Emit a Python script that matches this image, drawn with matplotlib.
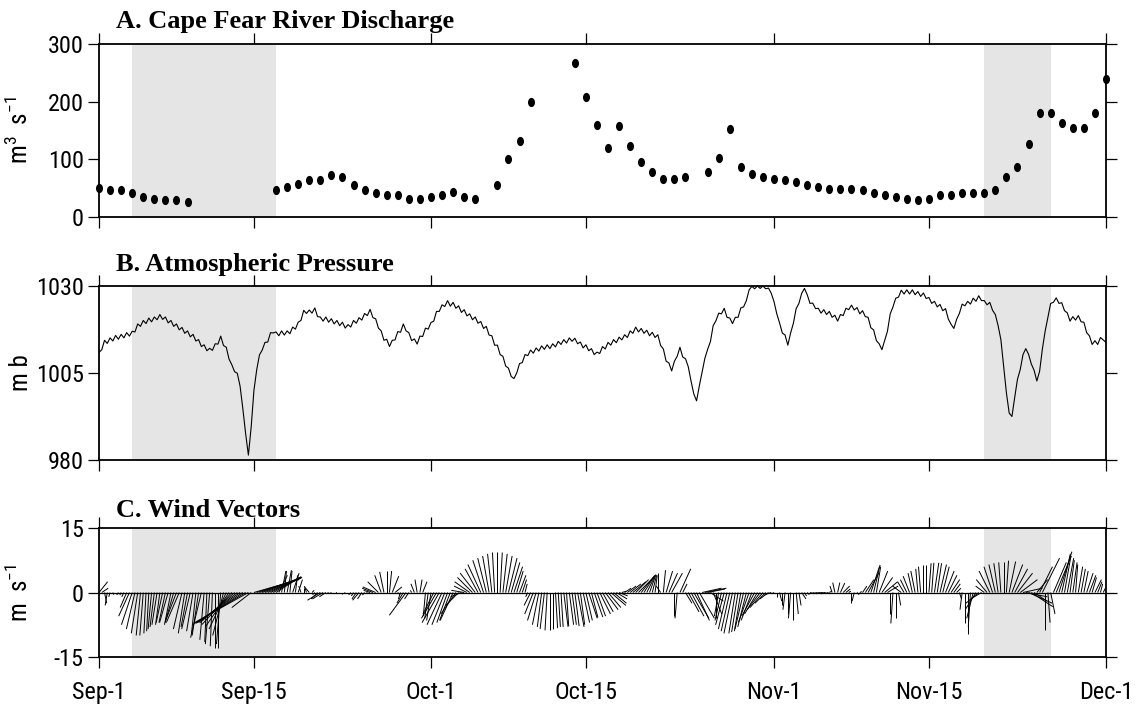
import numpy as np
import matplotlib
matplotlib.use("Agg")
import matplotlib.pyplot as plt
from matplotlib.collections import LineCollection
from matplotlib.path import Path
from matplotlib.transforms import Affine2D
from matplotlib import font_manager

# ---------------------------------------------------------------- data
# Day offsets are counted from Sep-1 (day 0) to Dec-1 (day 91).
tick_days = [0, 14, 30, 44, 61, 75, 91]
tick_labels = ["Sep-1", "Sep-15", "Oct-1", "Oct-15", "Nov-1", "Nov-15", "Dec-1"]
shade_spans = [(3, 16), (80, 86)]

# A. daily river discharge (m3/s); days without a value are left out
discharge_day = [0, 1, 2, 3, 4, 5, 6, 7, 8,
                 16, 17, 18, 19, 20, 21, 22, 23, 24, 25, 26, 27, 28, 29, 30,
                 31, 32, 33, 34,
                 36, 37, 38, 39,
                 43, 44, 45, 46, 47, 48, 49, 50, 51, 52, 53,
                 55, 56, 57, 58, 59, 60, 61, 62, 63, 64, 65, 66, 67, 68, 69,
                 70, 71, 72, 73, 74, 75, 76, 77, 78, 79, 80, 81, 82, 83, 84,
                 85, 86, 87, 88, 89, 90, 91]
discharge = [50, 47, 47, 41, 35, 32, 29, 29, 26,
             46, 52, 58, 64, 64, 72, 70, 55, 47, 41, 38, 38, 32, 32, 35,
             38, 44, 35, 32,
             55, 100, 132, 200,
             267, 208, 160, 120, 157, 123, 95, 78, 66, 66, 69,
             78, 103, 152, 86, 75, 69, 66, 64, 61, 55, 52, 49, 49, 49, 46,
             41, 38, 35, 32, 29, 32, 38, 38, 41, 41, 41, 46, 69, 86, 126,
             180, 180, 163, 155, 155, 180, 239]

# B. 6-hourly atmospheric pressure (mb), one row per day
pressure_mb = [
    1010.9, 1011.7, 1014.4, 1013.5,  1015.1, 1014.2, 1015.8, 1014.7,
    1016.1, 1015.1, 1016.6, 1015.6,  1017.0, 1016.8, 1019.1, 1018.4,
    1020.1, 1019.2, 1020.8, 1019.7,  1021.1, 1020.3, 1021.8, 1020.4,
    1021.1, 1019.4, 1020.1, 1018.4,  1019.1, 1017.4, 1018.1, 1016.4,
    1017.1, 1015.4, 1016.1, 1014.2,  1014.6, 1012.6, 1013.1, 1011.4,
    1012.1, 1011.5, 1013.4, 1013.3,  1015.6, 1012.9, 1012.4, 1009.0,
    1007.4, 1005.4, 1004.9, 1001.2,  994.7, 987.6, 981.4, 989.4,
    1000.0, 1005.9, 1010.2, 1011.6,  1013.8, 1013.9, 1016.6, 1016.5,
    1016.8, 1015.7, 1017.1, 1015.9,  1017.1, 1016.3, 1018.2, 1017.6,
    1019.6, 1020.1, 1023.0, 1022.1,  1023.1, 1022.2, 1023.7, 1021.2,
    1021.1, 1019.9, 1021.1, 1019.6,  1020.6, 1019.1, 1020.1, 1018.6,
    1019.6, 1017.9, 1018.9, 1018.2,  1020.1, 1019.3, 1020.9, 1020.2,
    1022.1, 1021.5, 1023.3, 1020.9,  1020.6, 1017.9, 1017.1, 1014.4,
    1014.7, 1012.6, 1014.4, 1014.5,  1016.9, 1016.7, 1019.1, 1017.1,
    1016.6, 1014.3, 1014.8, 1013.3,  1015.6, 1015.5, 1017.9, 1017.6,
    1019.5, 1019.9, 1022.7, 1022.7,  1024.6, 1024.1, 1025.8, 1024.2,
    1025.3, 1023.6, 1024.3, 1022.4,  1023.2, 1021.4, 1022.0, 1020.3,
    1021.1, 1019.3, 1019.8, 1017.8,  1018.4, 1015.9, 1015.7, 1013.0,
    1013.0, 1010.3, 1009.8, 1007.0,  1006.4, 1004.0, 1003.4, 1005.0,
    1007.7, 1008.0, 1010.3, 1010.0,  1011.6, 1010.7, 1012.2, 1011.3,
    1012.8, 1011.8, 1013.1, 1012.0,  1013.4, 1012.5, 1014.1, 1013.2,
    1014.6, 1013.6, 1015.1, 1014.1,  1015.0, 1013.4, 1013.9, 1012.2,
    1013.1, 1011.4, 1012.0, 1010.3,  1011.0, 1010.6, 1012.6, 1011.9,
    1013.8, 1013.0, 1014.6, 1013.7,  1015.3, 1014.5, 1016.0, 1015.2,
    1017.1, 1016.4, 1018.2, 1016.8,  1017.8, 1016.4, 1017.3, 1015.7,
    1016.7, 1015.2, 1016.0, 1012.9,  1011.9, 1008.4, 1007.9, 1005.6,
    1008.4, 1009.8, 1012.4, 1009.6,  1009.1, 1006.8, 1002.7, 999.0,
    997.0, 1001.3, 1005.3, 1009.2,   1011.8, 1014.0, 1018.6, 1020.0,
    1022.2, 1022.0, 1023.6, 1021.0,  1020.8, 1019.2, 1021.0, 1021.0,
    1023.7, 1024.0, 1025.8, 1028.9,  1029.9, 1029.2, 1030.0, 1029.3,
    1030.0, 1029.2, 1029.4, 1027.9,  1025.5, 1022.0, 1019.4, 1016.5,
    1015.9, 1013.0, 1016.5, 1019.3,  1023.5, 1025.0, 1027.9, 1029.3,
    1027.5, 1025.0, 1025.1, 1023.5,  1023.6, 1022.2, 1023.2, 1021.8,
    1022.7, 1021.0, 1021.6, 1019.9,  1021.8, 1021.5, 1023.6, 1023.2,
    1024.5, 1023.1, 1023.8, 1022.0,  1022.9, 1021.2, 1021.0, 1018.0,
    1017.4, 1014.3, 1013.4, 1011.7,  1014.4, 1017.0, 1022.0, 1024.0,
    1026.5, 1026.8, 1028.8, 1027.7,  1028.9, 1027.7, 1028.9, 1027.5,
    1028.4, 1027.0, 1028.0, 1026.4,  1026.7, 1025.0, 1025.6, 1024.0,
    1024.7, 1022.9, 1023.5, 1020.5,  1019.0, 1017.8, 1020.4, 1022.1,
    1024.8, 1024.3, 1025.6, 1024.8,  1026.5, 1025.6, 1027.2, 1025.8,
    1025.8, 1024.6, 1025.3, 1023.0,  1021.8, 1018.6, 1014.6, 1007.0,
    999.3, 993.5, 992.5, 998.0,      1003.2, 1006.0, 1010.3, 1012.0,
    1010.4, 1007.6, 1005.8, 1002.7,  1005.5, 1011.9, 1017.0, 1021.0,
    1025.0, 1025.3, 1026.6, 1025.0,  1025.2, 1022.9, 1022.3, 1019.9,
    1021.2, 1020.2, 1021.5, 1019.7,  1019.6, 1016.6, 1015.7, 1013.2,
    1014.3, 1013.2, 1015.2, 1014.5,  1013.8,
]

# C. 6-hourly wind components (m/s): east (u) and north (v)
wind_u = [
    2.0, 1.5, 0.5, -0.5,   -0.3, 0.2, 0.0, -0.2,   -0.3, -0.5, -1.5, -2.5,
    -2.5, -2.0, -1.5, -1.0,  -0.8, -0.5, -0.5, -0.8,  -1.0, -1.2, -1.0, -1.5,
    -1.5, -2.0, -1.5, -2.0,  -2.5, -3.0, -2.0, -1.5,  -1.5, -2.0, -1.5, -1.0,
    -1.5, -2.5, -1.0, -0.5,  -1.0, -0.5, 0.0, 0.0,    -1.0, -2.5, -4.0, -5.5,
    -7.0, -8.0, -9.0, -10.0, -11.0, -12.0, -12.5, -4.5, 10.5, 10.0, 9.5, 9.0,
    8.5, 8.0, 7.0, 6.5,     5.5, 2.0, 1.0, 0.5,     1.0, 0.5, 1.5, 0.5,
    1.0, -0.5, 0.0, -0.5,   -1.0, 0.5, -0.5, -1.5,  -3.0, -2.5, -1.5, -0.5,
    -0.3, 0.0, -0.2, 0.0,   0.0, -0.2, 0.0, -0.3,   -0.5, -1.0, -1.5, -1.0,
    -0.5, -0.3, -1.5, -2.5,  -3.0, -2.5, -1.5, -1.0,  0.0, 0.5, 1.5, 1.6,
    0.5, -0.5, -1.5, -3.9,  -1.0, -0.3, -0.8, -0.5,  0.5, 1.0, -0.5, -0.8,
    -1.0, -2.5, -3.5, -4.0,  -3.5, -3.0, -2.5, -2.5,  -3.0, -3.5, -3.0, -2.5,
    -3.0, -3.0, -3.5, -3.5,  -3.5, -3.0, -3.0, -2.5,  -2.0, -1.5, -1.0, -0.5,
    0.0, 0.5, 1.0, 1.5,     2.0, 2.0, 2.0, 1.5,     1.5, 1.0, 0.5, -0.5,
    -1.5, -2.0, -2.0, -1.5,  -1.0, -1.0, -0.5, 0.0,   0.0, 0.5, 0.5, 0.5,
    1.0, 0.5, 1.0, 1.0,     1.0, 1.5, 1.0, 1.5,     1.5, 2.0, 1.5, 2.0,
    2.0, 2.5, 2.5, 3.0,     3.0, 3.5, 3.0, 2.5,     2.0, 1.0, 1.5, 2.0,
    2.5, 3.0, 3.0, 3.5,     3.0, 2.5, 2.0, 1.5,     1.0, 0.5, 0.0, -1.0,
    0.5, 1.5, 2.0, 2.5,     0.0, -0.5, 2.5, 1.0,    1.5, 2.5, 3.0, 3.5,
    3.0, 3.5, 4.5, 5.0,     4.0, 3.0, 2.0, 0.0,     -1.0, -1.5, -2.0, -2.0,
    -2.0, -2.0, -1.5, -1.5,  -1.5, -2.0, -2.0, -2.5,  -2.5, -3.0, -3.0, -3.0,
    -3.0, -2.5, -2.0, -1.5,  -0.5, 0.0, 0.5, 0.0,    -0.5, 0.0, -0.5, 0.0,
    0.5, 0.5, 1.0, 0.5,     0.5, 1.0, 1.0, 1.5,     1.5, 1.0, 0.5, 0.5,
    0.5, -0.5, -0.5, 0.5,   1.0, 1.5, 1.0, 0.5,     0.0, -0.5, 0.5, 0.5,
    1.0, 2.0, 2.5, 2.0,     1.5, 1.0, 2.0, 2.5,     3.0, 2.5, 0.0, -0.5,
    0.0, 0.5, -2.0, -1.5,   -1.5, -1.5, -1.0, -1.0,  -0.5, -0.5, 0.0, 0.0,
    0.5, 0.5, 1.0, 1.0,     1.5, 1.5, 2.0, 2.0,     2.0, 1.5, 1.0, 0.5,
    -0.5, 0.0, 0.0, -0.5,   -1.5, -2.5, -3.0, -2.5,  -2.0, -2.5, -2.5, -2.0,
    -1.5, -1.0, -0.5, 0.0,   0.5, 1.5, 2.5, 3.0,     3.5, 4.0, 4.5, 5.0,
    5.5, 5.0, 3.0, 2.5,     3.0, 4.0, 0.0, 0.5,     1.0, 3.0, 3.5, 3.0,
    2.0, 1.5, 1.5, 1.0,     1.0, 0.5, 1.0, 1.0,     1.0, 1.5, 1.5, 1.0,
    1.5, 1.0, 0.5, 0.5,     1.0,
]
wind_v = [
    2.5, 1.0, -2.5, -3.0,   -1.0, -0.5, -0.4, -0.5,  -0.6, -1.0, -3.5, -5.5,
    -7.5, -8.5, -9.5, -10.0, -10.0, -9.5, -9.0, -8.5, -8.0, -7.5, -7.5, -7.0,
    -7.0, -7.0, -7.5, -7.0,  -6.5, -7.0, -8.5, -9.5,  -8.0, -8.5, -9.0, -9.5,
    -10.0, -10.5, -11.0, -11.5, -12.0, -12.5, -13.0, -13.0, -12.0, -10.0, -8.5, -8.0,
    -7.5, -7.0, -7.0, -7.0,  -7.2, -7.2, -7.0, -3.5,  3.0, 3.2, 3.3, 3.5,
    3.5, 3.5, 3.5, 3.7,     3.5, 4.0, 5.0, 5.0,     5.2, 5.0, 4.5, 4.0,
    3.0, 1.5, 1.0, 1.5,     1.2, 0.5, -0.5, -1.5,   -1.8, -1.5, -1.0, -0.3,
    -0.2, -0.1, -0.1, -0.2,  -0.3, -0.2, -0.3, -0.5,  -0.8, -1.5, -1.8, -1.5,
    -0.6, -0.2, 0.5, 1.0,   1.3, 2.5, 4.0, 4.8,     5.0, 5.0, 3.8, 1.3,
    -0.5, -1.5, -2.5, -5.3,  -1.5, 0.5, 2.0, 3.0,    3.0, 2.5, -5.5, -6.0,
    -6.5, -5.0, -6.0, -7.0,  -7.5, -7.5, -7.0, -6.5,  -6.5, -5.0, -3.0, -1.0,
    0.5, 1.5, 2.5, 3.5,     4.5, 5.5, 6.5, 7.5,     8.0, 8.5, 9.0, 9.3,
    9.5, 9.3, 9.0, 8.5,     8.0, 7.0, 6.0, 5.0,     4.0, 3.0, 2.0, -1.0,
    -3.0, -5.0, -6.5, -7.5,  -8.0, -8.5, -8.8, -8.8,  -8.5, -8.3, -8.0, -8.0,
    -8.0, -7.8, -7.5, -7.5,  -7.8, -8.0, -7.5, -7.0,  -6.5, -6.0, -5.8, -5.7,
    -5.5, -5.0, -4.5, -4.0,  -3.5, -3.0, -2.5, -1.5,  -0.8, 0.3, 1.0, 1.5,
    2.0, 2.5, 3.0, 3.5,     3.8, 4.0, 4.0, 4.2,     4.0, 4.0, 4.5, 1.5,
    5.2, 5.0, 4.5, 4.5,     -5.5, -6.0, 5.5, 2.0,   -2.5, -4.5, -5.5, -6.0,
    -6.5, -6.0, 1.0, 1.0,   0.8, -2.0, -5.0, -6.0,  -5.5, -6.5, -7.5, -8.5,
    -9.0, -9.5, -9.5, -9.2,  -9.0, -8.5, -8.0, -7.0,  -6.5, -5.5, -5.0, -4.0,
    -3.5, -2.5, -1.5, -0.5,  -0.3, -1.0, -2.0, -3.0,  -4.0, -5.0, -6.0, -6.5,
    -5.0, -3.0, -1.5, -0.8,  -0.5, -0.3, -0.3, -0.3,  -0.2, -0.2, -0.1, -0.1,
    0.3, 1.5, 2.3, 2.3,     2.2, 1.5, 0.8, 0.3,     -2.5, -2.0, -0.5, 0.2,
    1.5, 3.0, 4.5, 6.0,     6.4, 6.0, 5.0, 3.5,     2.5, 1.5, -5.0, -7.2,
    -6.0, -3.0, 1.5, 2.5,   3.0, 3.8, 4.5, 5.0,     5.5, 6.0, 6.5, 6.5,
    6.8, 6.9, 6.9, 6.8,     6.5, 6.0, 5.0, 4.0,     3.0, 2.0, 1.0, -1.5,
    -4.0, -7.0, -9.6, -8.0,  -6.0, -4.0, -2.5, -1.5,  1.5, 3.0, 5.0, 6.0,
    6.5, 6.8, 7.0, 7.2,     7.4, 7.2, 6.5, 5.5,     4.5, 3.0, 1.0, -1.0,
    -2.5, -3.3, -2.0, 3.0,  6.0, 8.0, -8.8, -7.0,   -5.0, 7.0, 8.5, 9.5,
    9.0, 8.5, 8.0, 7.5,     7.0, 6.5, 6.0, 5.5,     5.0, 4.5, 4.0, 3.5,
    3.0, 2.5, 2.0, 1.0,     1.0,
]

# ---------------------------------------------------------------- fonts
available = {f.name for f in font_manager.fontManager.ttflist}


def first_font(names):
    for name in names:
        if name in available:
            return name
    return names[-1]


SANS = first_font(["Roboto Condensed", "PT Sans Narrow", "Archivo Narrow",
                   "Liberation Sans", "DejaVu Sans"])
SERIF = first_font(["Liberation Serif", "DejaVu Serif"])

plt.rcParams["font.family"] = [SANS, "DejaVu Sans"]
plt.rcParams["axes.unicode_minus"] = False
plt.rcParams["mathtext.fontset"] = "custom"
plt.rcParams["mathtext.rm"] = SANS
plt.rcParams["mathtext.it"] = SANS
plt.rcParams["mathtext.default"] = "regular"

TICK_FS = 17.5
LABEL_FS = 18
TITLE_FS = 19

# ---------------------------------------------------------------- figure
W, H = 1141, 711
fig = plt.figure(figsize=(W / 100, H / 100), dpi=100)


def px_axes(left, top, right, bottom):
    return fig.add_axes([left / W, 1 - bottom / H, (right - left) / W, (bottom - top) / H])


ax_a = px_axes(99, 44, 1106, 217)
ax_b = px_axes(99, 286, 1106, 460)
ax_c = px_axes(99, 528, 1106, 657)
axes = [ax_a, ax_b, ax_c]

for ax in axes:
    ax.set_xlim(0, 91)
    for lo, hi in shade_spans:
        ax.axvspan(lo, hi, color="#e5e5e5", lw=0, zorder=0)
    ax.set_xticks(tick_days)
    ax.tick_params(direction="out", length=8, width=0.9, top=True, right=True,
                   labelsize=TICK_FS, pad=3, colors="black")
    for sp in ax.spines.values():
        sp.set_linewidth(1.3)
    ax.set_facecolor("none")
ax_a.set_xticklabels([])
ax_b.set_xticklabels([])
ax_c.set_xticklabels(tick_labels)
ax_c.tick_params(axis="x", pad=9)

# A. discharge
ellipse = Path.unit_circle().transformed(Affine2D().scale(0.72, 1.0))
ax_a.plot(discharge_day, discharge, linestyle="none", marker=ellipse,
          markersize=5.6, color="black", clip_on=False, zorder=3)
ax_a.set_ylim(0, 300)
ax_a.set_yticks([0, 100, 200, 300])
ax_a.set_ylabel(r"m$^{3}$  s$^{-1}$", fontsize=LABEL_FS)

# B. pressure
p_time = np.arange(len(pressure_mb)) / 4.0
ax_b.plot(p_time, pressure_mb, color="black", lw=0.8, zorder=3)
ax_b.set_ylim(980, 1030)
ax_b.set_yticks([980, 1005, 1030])
ax_b.set_ylabel("m b", fontsize=LABEL_FS)

# C. wind stick plot; horizontal stick extent uses the vertical scale so
# that directions are shown true on screen
w_time = np.arange(len(wind_u)) / 4.0
ax_c.set_ylim(-15, 15)
ax_c.set_yticks([-15, 0, 15])
pos = ax_c.get_position()
days_per_px = 91 / (pos.width * W)
ms_per_px = 30 / (pos.height * H)
k = days_per_px / ms_per_px
u = np.asarray(wind_u)
v = np.asarray(wind_v)
segs = [[(t, 0.0), (t + uu * k, vv)] for t, uu, vv in zip(w_time, u, v)]
ax_c.add_collection(LineCollection(segs, colors="black", linewidths=0.7, zorder=3))
ax_c.axhline(0, color="black", lw=0.9, zorder=3)
ax_c.set_ylabel(r"m  s$^{-1}$", fontsize=LABEL_FS)

# y-axis labels share one column left of the tick labels
for ax in axes:
    ax.yaxis.set_label_coords(-0.066, 0.5)

# panel titles
titles = ["A. Cape Fear River Discharge", "B. Atmospheric Pressure", "C. Wind Vectors"]
baselines = [28, 271, 517]
for text, base in zip(titles, baselines):
    fig.text(116 / W, 1 - base / H, text, fontfamily=SERIF, fontweight="bold",
             fontsize=TITLE_FS, ha="left", va="baseline")

fig.savefig("out.png", dpi=100)
